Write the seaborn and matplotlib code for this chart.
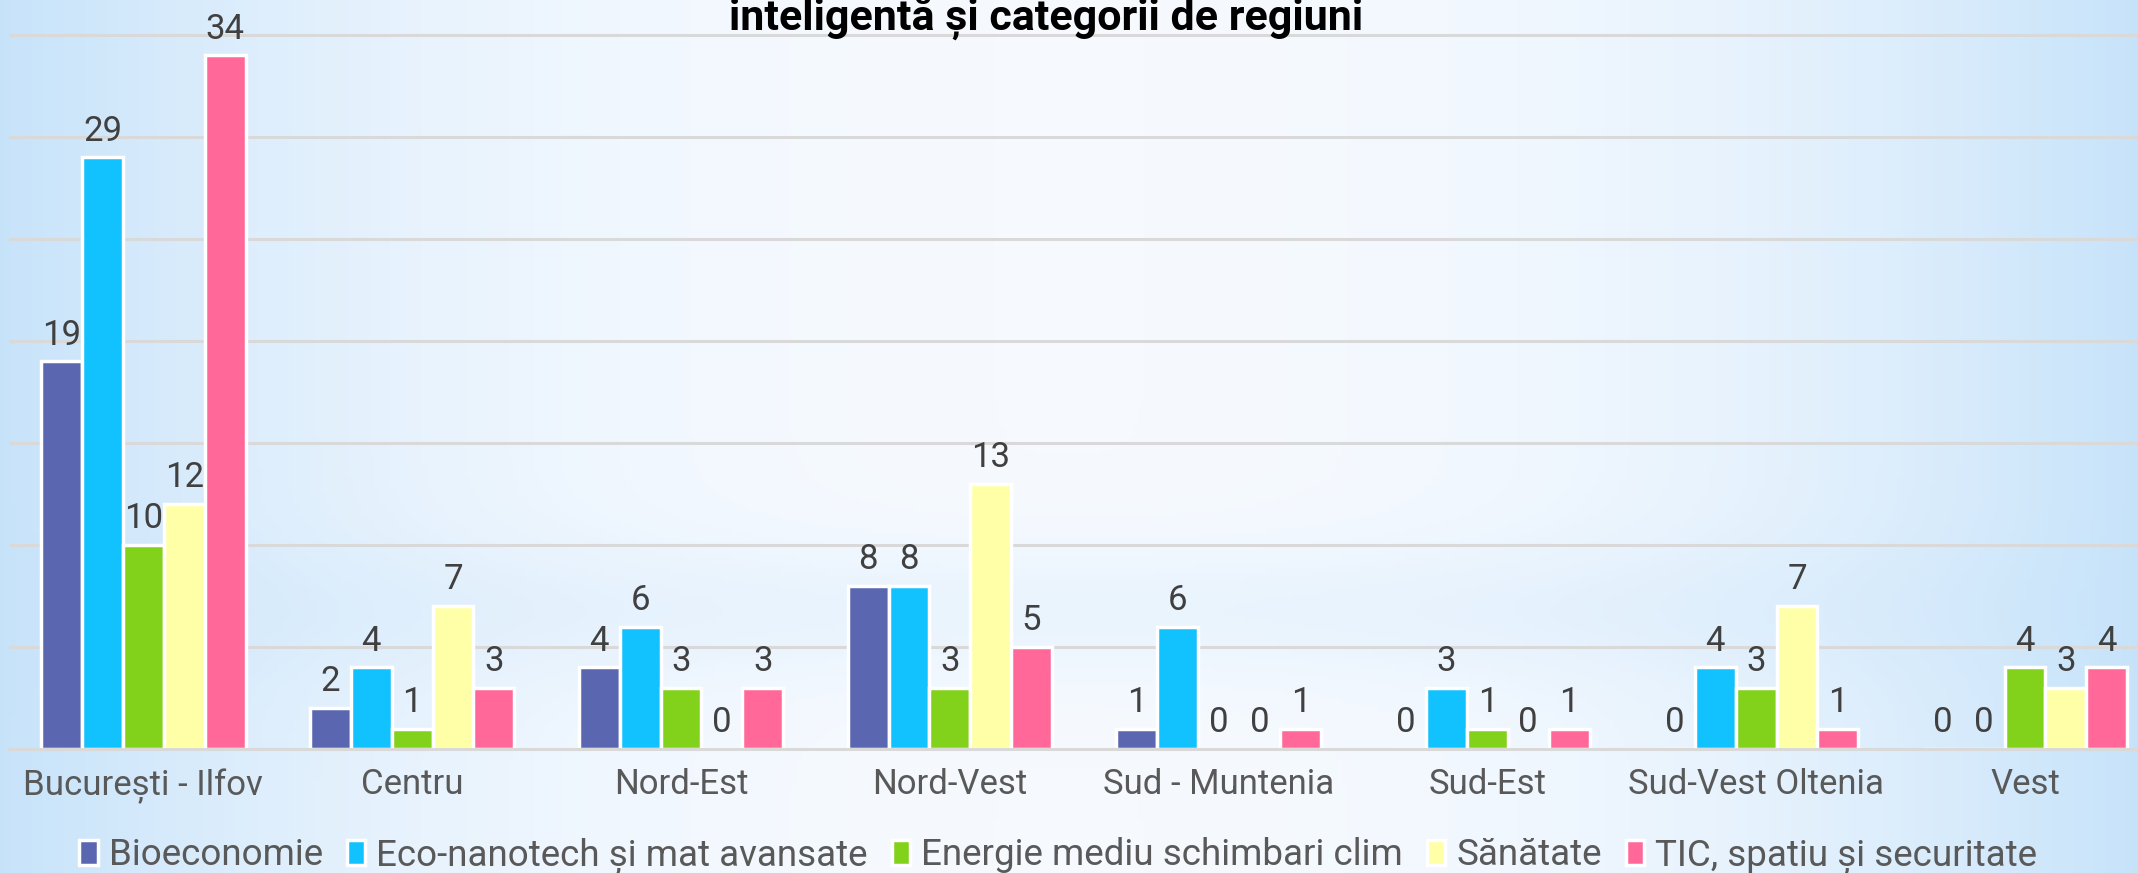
import numpy as np
import pandas as pd
import matplotlib
matplotlib.use('Agg')
import matplotlib.pyplot as plt
import seaborn as sns
from matplotlib.ticker import FixedLocator

# Data
regiuni = ['București - Ilfov', 'Centru', 'Nord-Est', 'Nord-Vest',
           'Sud - Muntenia', 'Sud-Est', 'Sud-Vest Oltenia', 'Vest']
domenii = ['Bioeconomie', 'Eco-nanotech și mat avansate',
           'Energie mediu schimbari clim', 'Sănătate', 'TIC, spatiu și securitate']
bioeconomie = [19, 2, 4, 8, 1, 0, 0, 0]
eco_nanotech = [29, 4, 6, 8, 6, 3, 4, 0]
energie = [10, 1, 3, 3, 0, 1, 3, 4]
sanatate = [12, 7, 0, 13, 0, 0, 7, 3]
tic = [34, 3, 3, 5, 1, 1, 1, 4]
culori = ['#5A67B0', '#12C2FF', '#82D11A', '#FFFFA8', '#FF6899']
titlu = 'inteligentă și categorii de regiuni'

serii = [bioeconomie, eco_nanotech, energie, sanatate, tic]
rows = []
for dom, vals in zip(domenii, serii):
    for reg, v in zip(regiuni, vals):
        rows.append({'regiune': reg, 'domeniu': dom, 'valoare': v})
df = pd.DataFrame(rows)

sns.set_theme(style='white')
font = ['Roboto', 'DejaVu Sans']
plt.rcParams['font.family'] = font

fig = plt.figure(figsize=(21.38, 8.73), dpi=100)

# light blue slide background
bg = fig.add_axes([0, 0, 1, 1], zorder=-10)
x = np.linspace(-1, 1, 400)
y = np.linspace(0, 1, 200)
X, Y = np.meshgrid(x, y)
t = np.clip(np.abs(X) ** 2.4, 0, 1)
band = np.exp(-((Y - 0.3) / 0.08) ** 2) * 0.25
t = np.clip(t + band * (1 - t), 0, 1)
c0 = np.array([0.965, 0.980, 1.0])
c1 = np.array([0.78, 0.89, 0.98])
img = c0[None, None, :] * (1 - t[..., None]) + c1[None, None, :] * t[..., None]
bg.imshow(img, aspect='auto', extent=[0, 1, 0, 1], origin='lower')
bg.axis('off')

step = 268.8 / 2138
ax = fig.add_axes([9 / 2138, 124 / 873, 8 * step, 749 / 873])
ax.set_facecolor('none')

sns.barplot(data=df, x='regiune', y='valoare', hue='domeniu', palette=culori,
            saturation=1, width=0.76, edgecolor='white', linewidth=2.5, ax=ax,
            legend=True, errorbar=None)

for cont in ax.containers:
    ax.bar_label(cont, fmt='%d', padding=7, fontsize=25, color='#404040',
                 family=font)

ax.set_xlim(-0.5, len(regiuni) - 0.5)
ax.set_ylim(0, 749 / 20.4)
ax.set_yticks(np.arange(5, 40, 5))
ax.set_yticklabels([])
ax.tick_params(axis='y', length=0)
ax.yaxis.grid(True, color='#D9D9D9', linewidth=2.2)
ax.set_axisbelow(True)
for s in ['top', 'right', 'left']:
    ax.spines[s].set_visible(False)
ax.spines['bottom'].set_color('#D9D9D9')
ax.spines['bottom'].set_linewidth(2.2)
ax.set_xlabel('')
ax.set_ylabel('')
ax.tick_params(axis='x', which='major', length=0, pad=14, labelsize=25,
               labelcolor='#595959')
ax.xaxis.set_minor_locator(FixedLocator(np.arange(-0.5, len(regiuni), 1)))
ax.tick_params(axis='x', which='minor', length=9, width=2, color='#D9D9D9')
for lbl in ax.get_xticklabels():
    lbl.set_family(font)

handles, labels = ax.get_legend_handles_labels()
ax.get_legend().remove()
fig.legend(handles, labels, loc='center', bbox_to_anchor=(0.495, 17 / 873),
           ncol=5, frameon=False, labelcolor='#595959',
           handlelength=0.5, handleheight=0.65, handletextpad=0.3,
           columnspacing=0.65, prop={'family': font, 'size': 26.5})

fig.text(1046 / 2138, 1 - 30 / 873, titlu, ha='center', va='baseline',
         fontsize=31, fontweight='bold', color='black', family=font)

fig.savefig('out.png', dpi=100)
